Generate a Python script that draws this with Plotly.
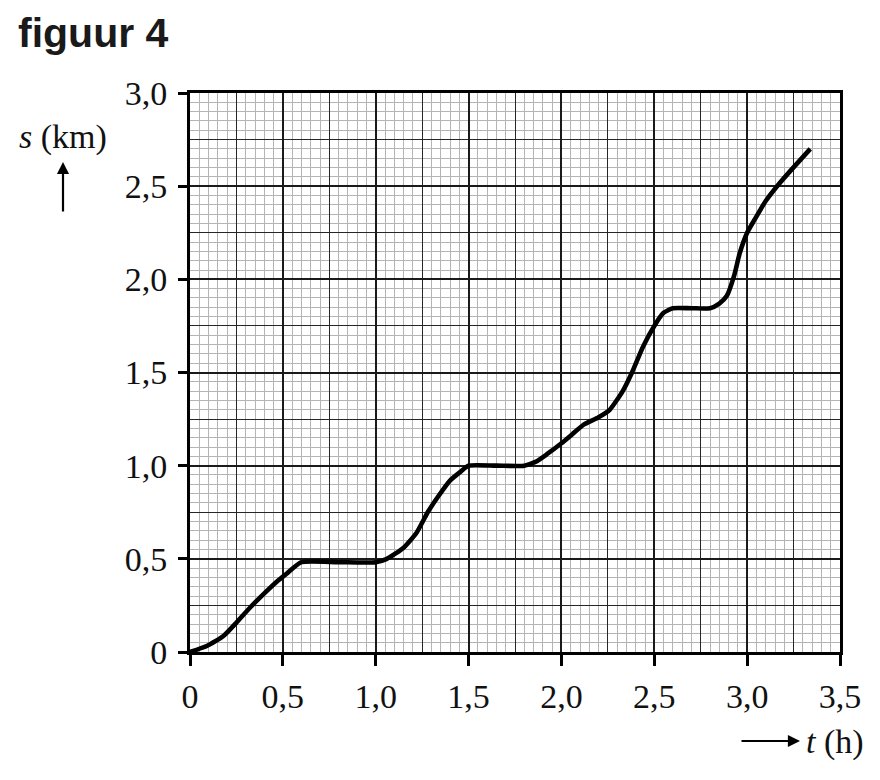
import plotly.graph_objects as go

# data
t_h = [0, 0.09, 0.18, 0.25, 0.32, 0.40, 0.47, 0.52, 0.60, 0.8, 1.0, 1.06, 1.15,
       1.22, 1.28, 1.34, 1.4, 1.46, 1.5, 1.65, 1.8, 1.86, 1.92, 2.0, 2.06, 2.12,
       2.2, 2.26, 2.33, 2.38, 2.44, 2.5, 2.55, 2.6, 2.7, 2.8, 2.85, 2.89, 2.93,
       2.96, 3.0, 3.04, 3.1, 3.17, 3.24, 3.34]
s_km = [0, 0.032, 0.086, 0.158, 0.235, 0.315, 0.38, 0.42, 0.482, 0.482, 0.482,
        0.50, 0.56, 0.64, 0.75, 0.84, 0.92, 0.97, 1.0, 1.0, 1.0, 1.02, 1.06,
        1.12, 1.17, 1.22, 1.26, 1.30, 1.40, 1.50, 1.64, 1.75, 1.82, 1.845,
        1.845, 1.845, 1.87, 1.91, 2.02, 2.14, 2.25, 2.32, 2.42, 2.51, 2.59, 2.70]

x_ticks = [0, 0.5, 1.0, 1.5, 2.0, 2.5, 3.0, 3.5]
x_labels = ["0", "0,5", "1,0", "1,5", "2,0", "2,5", "3,0", "3,5"]
y_ticks = [0, 0.5, 1.0, 1.5, 2.0, 2.5, 3.0]
y_labels = ["0", "0,5", "1,0", "1,5", "2,0", "2,5", "3,0"]

serif = "Liberation Serif, Times New Roman, serif"
tickfont = dict(family=serif, size=34, color="#111")

fig = go.Figure()
# empty trace to anchor the base subplot
fig.add_trace(go.Scatter(x=[], y=[], xaxis="x", yaxis="y", showlegend=False))
fig.add_trace(go.Scatter(
    x=t_h, y=s_km, xaxis="x2", yaxis="y2", mode="lines",
    line=dict(color="black", width=4.6, shape="spline", smoothing=0.55),
    showlegend=False, hoverinfo="skip"))

base_axis = dict(
    dtick=0.25, tick0=0, showgrid=True, gridcolor="#262626", gridwidth=1.3,
    minor=dict(dtick=0.05, tick0=0, showgrid=True, gridcolor="#b4b4b4", gridwidth=1),
    showticklabels=False, ticks="", zeroline=False,
    showline=True, linecolor="black", linewidth=2.5, mirror=True,
)

fig.update_layout(
    width=880, height=780,
    margin=dict(l=190, r=40, t=93, b=128),
    paper_bgcolor="white", plot_bgcolor="white",
    xaxis=dict(range=[0, 3.5], **base_axis),
    yaxis=dict(range=[0, 3.0], **base_axis),
    xaxis2=dict(range=[0, 3.5], overlaying="x", anchor="y", side="bottom",
                tickmode="array", tickvals=x_ticks, ticktext=x_labels,
                ticks="outside", ticklen=13, tickwidth=2.5, tickcolor="black",
                showgrid=True, gridcolor="#1a1a1a", gridwidth=2.3,
                zeroline=False, tickfont=tickfont, ticklabelstandoff=1),
    yaxis2=dict(range=[0, 3.0], overlaying="y", anchor="x", side="left",
                tickmode="array", tickvals=y_ticks, ticktext=y_labels,
                ticks="outside", ticklen=11, tickwidth=2.5, tickcolor="black",
                showgrid=True, gridcolor="#1a1a1a", gridwidth=2.3,
                zeroline=False, tickfont=tickfont, ticklabelstandoff=4),
    showlegend=False,
)

W, H, L, T = 650, 559, 190, 93
def px(xp):
    return (xp - L) / W
def py(yp):
    return (T + H - yp) / H

annotations = [
    dict(text="<b>figuur 4</b>", x=px(16), y=py(33), xref="paper", yref="paper",
         xanchor="left", yanchor="middle", showarrow=False,
         font=dict(family="Liberation Sans, Arial, sans-serif", size=41, color="#1a1a1a")),
    dict(text="<i>s</i> (km)", x=px(63), y=py(137), xref="paper", yref="paper",
         xanchor="center", yanchor="middle", showarrow=False,
         font=dict(family=serif, size=34, color="#111")),
    dict(text="", x=px(63), y=py(162), xref="paper", yref="paper",
         ax=0, ay=51, showarrow=True, arrowhead=2, arrowsize=1.1, arrowwidth=2.2,
         arrowcolor="black", standoff=0, startstandoff=0),
    dict(text="", x=px(800), y=py(741), xref="paper", yref="paper",
         ax=-60, ay=0, showarrow=True, arrowhead=2, arrowsize=1.1, arrowwidth=2.2,
         arrowcolor="black", standoff=0, startstandoff=0),
    dict(text="<i>t</i> (h)", x=px(804), y=py(742), xref="paper", yref="paper",
         xanchor="left", yanchor="middle", showarrow=False,
         font=dict(family=serif, size=34, color="#111")),
]
fig.update_layout(annotations=annotations)

fig.write_html("out.html")
